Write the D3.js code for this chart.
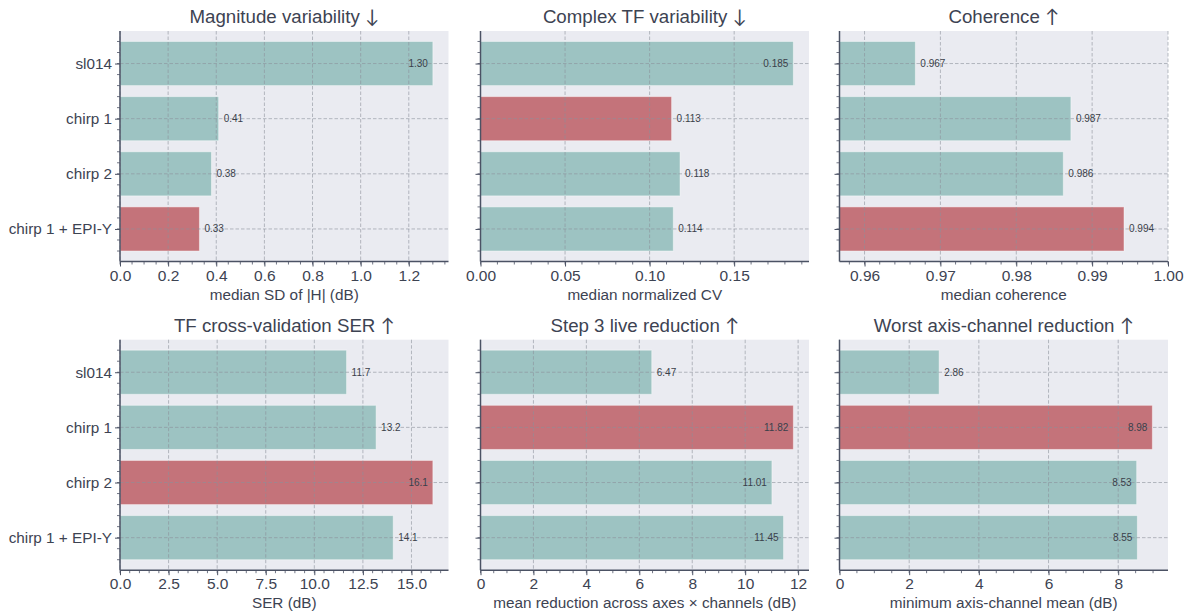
<!DOCTYPE html>
<html><head><meta charset="utf-8">
<script src="https://cdn.jsdelivr.net/npm/d3@7"></script>
<style>
html,body{margin:0;padding:0;background:#fff;}
svg{display:block;font-family:"Liberation Sans",Arial,sans-serif;}
</style></head>
<body>
<svg id="chart" width="1192" height="615"></svg>
<script>
// ---- data ----
const categories = ["sl014", "chirp 1", "chirp 2", "chirp 1 + EPI-Y"];
const titleTexts = ["Magnitude variability", "Complex TF variability", "Coherence",
                    "TF cross-validation SER", "Step 3 live reduction", "Worst axis-channel reduction"];
const titleArrows = ["\u2193", "\u2193", "\u2191", "\u2191", "\u2191", "\u2191"];
const xLabels = ["median SD of |H| (dB)", "median normalized CV", "median coherence",
                 "SER (dB)", "mean reduction across axes \u00d7 channels (dB)", "minimum axis-channel mean (dB)"];
const magnitudeSD = [1.30, 0.41, 0.38, 0.33];
const complexCV = [0.185, 0.113, 0.118, 0.114];
const coherence = [0.9667, 0.9872, 0.9862, 0.9942];
const serDB = [11.66, 13.18, 16.1, 14.06];
const liveReduction = [6.47, 11.82, 11.01, 11.45];
const worstReduction = [2.86, 8.98, 8.53, 8.55];
const betterIsLower = [true, true, false, false, false, false];
const valueFormats = [".2f", ".3f", ".3f", ".1f", ".2f", ".2f"];
const tickFormats = [".1f", ".2f", ".2f", ".1f", "d", "d"];
const majorTicks = [
  [0, 0.2, 0.4, 0.6, 0.8, 1.0, 1.2],
  [0, 0.05, 0.10, 0.15],
  [0.96, 0.97, 0.98, 0.99, 1.00],
  [0, 2.5, 5, 7.5, 10, 12.5, 15],
  [0, 2, 4, 6, 8, 10, 12],
  [0, 2, 4, 6, 8]
];
const minorSteps = [0.05, 0.01, 0.002, 0.5, 0.5, 0.5];
const coherenceXMin = 0.9567;
const series = [magnitudeSD, complexCV, coherence, serDB, liveReduction, worstReduction];

// ---- style ----
const teal = "#9dc3c2", red = "#c4737a", bg = "#eaebf1";
const ink = "#3d4352", spine = "#4b5264", gridCol = "#8c909a";
const fontFam = "'Liberation Sans',Arial,sans-serif";

const svg = d3.select("#chart");
const panelLeft = [120, 480.5, 839.5];
const panelW = 328.5;
const panelTop = [31, 339.7];
const panelH = 230.5;

series.forEach((vals, p) => {
  const col = p % 3, row = Math.floor(p / 3);
  const x0 = panelLeft[col], y0 = panelTop[row];
  const g = svg.append("g").attr("transform", `translate(${x0},${y0})`);
  const xmin = p === 2 ? coherenceXMin : 0;
  const xmax = p === 2 ? 1.0 : d3.max(vals) * 1.05;
  const x = d3.scaleLinear().domain([xmin, xmax]).range([0, panelW]);
  const y = d3.scaleLinear().domain([-0.59, categories.length - 1 + 0.59]).range([0, panelH]);
  const best = betterIsLower[p] ? d3.minIndex(vals) : d3.maxIndex(vals);

  g.append("rect").attr("width", panelW).attr("height", panelH).attr("fill", bg);

  const clipId = "clip" + p;
  g.append("clipPath").attr("id", clipId).append("rect").attr("width", panelW).attr("height", panelH);

  // bars
  g.append("g").attr("clip-path", `url(#${clipId})`).selectAll("rect").data(vals).join("rect")
    .attr("x", Math.max(0, x(0)))
    .attr("y", (d, i) => y(i - 0.4))
    .attr("width", d => x(d) - Math.max(0, x(0)))
    .attr("height", y(0.8) - y(0))
    .attr("fill", (d, i) => i === best ? red : teal)
    .attr("stroke", "rgba(255,255,255,0.45)").attr("stroke-width", 1);

  // grid
  const grid = g.append("g").attr("stroke", gridCol).attr("stroke-opacity", 0.75)
    .attr("stroke-width", 0.8).attr("stroke-dasharray", "3.5,2");
  grid.selectAll("line.v").data(majorTicks[p]).join("line").attr("class", "v")
    .attr("x1", d => x(d)).attr("x2", d => x(d)).attr("y1", 0).attr("y2", panelH);
  grid.selectAll("line.h").data(categories).join("line").attr("class", "h")
    .attr("x1", 0).attr("x2", panelW).attr("y1", (d, i) => y(i)).attr("y2", (d, i) => y(i));

  // value labels
  const fmt = d3.format(valueFormats[p]);
  g.append("g").selectAll("text").data(vals).join("text")
    .attr("x", d => (x(d) > 0.87 * panelW) ? x(d) - 5 : x(d) + 5)
    .attr("text-anchor", d => (x(d) > 0.87 * panelW) ? "end" : "start")
    .attr("y", (d, i) => y(i)).attr("dy", "0.35em")
    .attr("font-size", 10).attr("fill", "#3a3f4a")
    .text(d => fmt(d));

  // x axis
  const xAxis = d3.axisBottom(x).tickValues(majorTicks[p]).tickFormat(d3.format(tickFormats[p]))
    .tickSize(5).tickPadding(3);
  const gx = g.append("g").attr("transform", `translate(0,${panelH})`).call(xAxis);
  const minors = d3.range(Math.ceil(xmin / minorSteps[p] - 1e-6), Math.floor(xmax / minorSteps[p] + 1e-6) + 1)
    .map(k => k * minorSteps[p]);
  g.append("g").attr("transform", `translate(0,${panelH})`).selectAll("line").data(minors).join("line")
    .attr("x1", d => x(d)).attr("x2", d => x(d)).attr("y1", 0).attr("y2", 3)
    .attr("stroke", spine).attr("stroke-width", 0.8);
  gx.select(".domain").attr("stroke", spine).attr("stroke-width", 1.5).attr("d", `M0,0H${panelW}`);
  gx.selectAll(".tick line").attr("stroke", spine).attr("stroke-width", 1);
  gx.selectAll(".tick text").attr("fill", ink).attr("font-size", 15.5).attr("font-family", fontFam);

  // y axis
  const yAxis = d3.axisLeft(y).tickValues(d3.range(categories.length))
    .tickFormat(i => col === 0 ? categories[i] : "").tickSize(5).tickPadding(3);
  const gy = g.append("g").call(yAxis);
  gy.select(".domain").attr("stroke", spine).attr("stroke-width", 1.5).attr("d", `M0,0V${panelH}`);
  gy.selectAll(".tick line").attr("stroke", spine).attr("stroke-width", 1);
  gy.selectAll(".tick text").attr("fill", ink).attr("font-size", 15.3).attr("font-family", fontFam);
  const yMinors = d3.range(-2, 5 * (categories.length - 1) + 3).map(k => k * 0.2);
  g.append("g").selectAll("line").data(yMinors).join("line")
    .attr("x1", -3).attr("x2", 0).attr("y1", d => y(d)).attr("y2", d => y(d))
    .attr("stroke", spine).attr("stroke-width", 0.8);

  // title and x label
  const t = g.append("text").attr("x", panelW / 2).attr("y", -8).attr("text-anchor", "middle")
    .attr("font-size", 18.7).attr("fill", ink);
  t.append("tspan").text(titleTexts[p] + " ");
  t.append("tspan").attr("font-family", "Lato,sans-serif").attr("fill", ink).text(titleArrows[p]);
  g.append("text").attr("x", panelW / 2).attr("y", panelH + 38).attr("text-anchor", "middle")
    .attr("font-size", 15.3).attr("fill", ink).text(xLabels[p]);
});
</script>
</body></html>
